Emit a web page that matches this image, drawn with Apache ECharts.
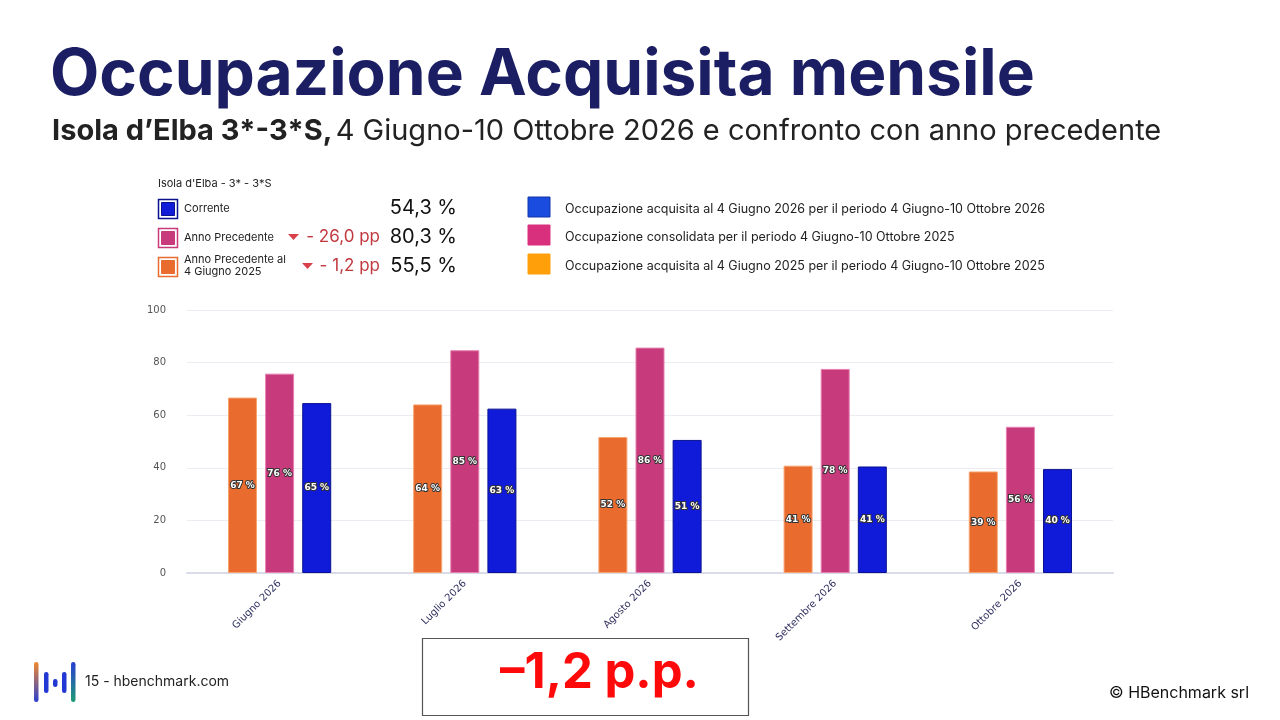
<!DOCTYPE html>
<html>
<head>
<meta charset="utf-8">
<title>Occupazione Acquisita mensile</title>
<script src="https://cdn.jsdelivr.net/npm/echarts@6/dist/echarts.min.js"></script>
<style>
  html, body { margin: 0; padding: 0; background: #fff; }
  #main { width: 1280px; height: 720px; }
</style>
</head>
<body>
<div id="main"></div>
<script>
// mesi e valori
const months = ['Giugno 2026', 'Luglio 2026', 'Agosto 2026', 'Settembre 2026', 'Ottobre 2026'];
const prevAtDate = [66.7, 64.1, 51.7, 40.8, 38.6];   // anno precedente al 4 giugno 2025
const prevFinal = [75.8, 84.7, 85.7, 77.6, 55.6];    // anno precedente consolidato
const current = [64.6, 62.5, 50.6, 40.5, 39.5];      // corrente
const yTicks = [0, 20, 40, 60, 80, 100];

// riepilogo in alto a sinistra
const summaryNames = ['Corrente', 'Anno Precedente', 'Anno Precedente al\n4 Giugno 2025'];
const summaryValues = ['54,3 %', '80,3 %', '55,5 %'];
const summaryDiffs = ['', '- 26,0 pp', '- 1,2 pp'];
const legendTexts = [
  'Occupazione acquisita al 4 Giugno 2026 per il periodo 4 Giugno-10 Ottobre 2026',
  'Occupazione consolidata per il periodo 4 Giugno-10 Ottobre 2025',
  'Occupazione acquisita al 4 Giugno 2025 per il periodo 4 Giugno-10 Ottobre 2025'
];

const barColors = ['#e96c2e', '#c73a7c', '#0f1bd8'];
const barBorders = ['#f7a36e', '#e77fb0', '#0a1290'];
const summaryColors = ['#0f1bd8', '#c73a7c', '#e96c2e'];
const summaryBorders = ['#0a1290', '#c73a7c', '#e96c2e'];
const legendColors = ['#1a4ce0', '#d8307c', '#ffa00a'];

const myChart = echarts.init(document.getElementById('main'));

function barSeries(name, data, i) {
  return {
    name: name,
    type: 'bar',
    data: data,
    barWidth: 29,
    barGap: '28%',
    itemStyle: { color: barColors[i], borderColor: barBorders[i], borderWidth: 1 },
    label: {
      show: true,
      position: 'inside',
      formatter: p => Math.round(p.value) + ' %',
      color: '#fff',
      fontFamily: 'DejaVu Sans',
      fontWeight: 'bold',
      fontSize: 9,
      textBorderColor: '#333',
      textBorderWidth: 2
    }
  };
}

const graphics = [];

// titolo
graphics.push({
  type: 'text', left: 50, top: 44,
  style: { text: 'Occupazione Acquisita mensile', fill: '#1b1e63', font: 'bold 64px Inter' }
});
graphics.push({
  type: 'text', left: 52, top: 117,
  style: {
    text: '{b|Isola d\u2019Elba 3*-3*S,} {r|4 Giugno-10 Ottobre 2026 e confronto con anno precedente}',
    rich: {
      b: { font: 'bold 29px Inter', fill: '#222' },
      r: { font: '29px Inter', fill: '#222' }
    }
  }
});

// riepilogo
graphics.push({
  type: 'text', left: 158, top: 178,
  style: { text: "Isola d'Elba - 3* - 3*S", font: '11px Inter', fill: '#222' }
});
const rowY = [209, 238, 267];
summaryNames.forEach((n, i) => {
  graphics.push({
    type: 'rect', shape: { x: 158.5, y: rowY[i] - 9.5, width: 19, height: 19 },
    style: { fill: '#fff', stroke: summaryBorders[i], lineWidth: 1.5 }
  });
  graphics.push({
    type: 'rect', shape: { x: 161.5, y: rowY[i] - 6.5, width: 13, height: 13 },
    style: { fill: summaryColors[i], stroke: summaryBorders[i], lineWidth: 1 }
  });
  graphics.push({
    type: 'text', left: 184, top: rowY[i] - (i === 2 ? 13 : 6),
    style: { text: n, font: '11px Inter', fill: '#222', lineHeight: 12 }
  });
  graphics.push({
    type: 'text', right: 1280 - 457, top: rowY[i] - 11,
    style: { text: summaryValues[i], font: '20px Inter', fill: '#111' }
  });
  if (summaryDiffs[i]) {
    graphics.push({
      type: 'text', right: 1280 - 380, top: rowY[i] - 10,
      style: { text: summaryDiffs[i], font: '17px Inter', fill: '#c0393f' }
    });
    graphics.push({
      type: 'polygon', shape: { points: [[0, 0], [11, 0], [5.5, 6]] },
      x: i === 1 ? 288 : 302, y: rowY[i] - 4,
      style: { fill: '#d8404a' }
    });
  }
});

// legenda a destra
const legY = [207, 235, 264];
legendTexts.forEach((t, i) => {
  graphics.push({
    type: 'rect', shape: { x: 528, y: legY[i] - 10, width: 22, height: 20 },
    style: { fill: legendColors[i], stroke: i === 0 ? '#1234a8' : legendColors[i], lineWidth: 1 }
  });
  graphics.push({
    type: 'text', left: 565, top: legY[i] - 4,
    style: { text: t, font: '12.5px Inter', fill: '#222' }
  });
});

// riquadro differenza
graphics.push({
  type: 'rect', shape: { x: 422.5, y: 638.5, width: 326, height: 77 },
  style: { fill: '#fff', stroke: '#555', lineWidth: 1.2 }
});
graphics.push({
  type: 'text', left: 500, top: 649,
  style: { text: '\u20131,2 p.p.', font: 'bold 49px Inter', fill: '#ff0a0a' }
});

// piè di pagina
const logoBars = [
  { x: 34, y: 662, h: 40, c: ['#f08a2c', '#2b3fd0'] },
  { x: 44, y: 672, h: 21, c: ['#2238d4', '#2238d4'] },
  { x: 53, y: 679, h: 8, c: ['#2238d4', '#2238d4'] },
  { x: 62, y: 672, h: 21, c: ['#2238d4', '#2238d4'] },
  { x: 71, y: 662, h: 40, c: ['#2a3ed2', '#1f9a74'] }
];
logoBars.forEach(b => {
  graphics.push({
    type: 'rect', shape: { x: b.x, y: b.y, width: 4.5, height: b.h, r: 2.2 },
    style: {
      fill: new echarts.graphic.LinearGradient(0, 0, 0, 1, [
        { offset: 0, color: b.c[0] }, { offset: 1, color: b.c[1] }
      ])
    }
  });
});
graphics.push({
  type: 'text', left: 85, top: 675,
  style: { text: '15 - hbenchmark.com', font: '14px Inter', fill: '#222' }
});
graphics.push({
  type: 'text', left: 1109, top: 685,
  style: { text: '\u00a9 HBenchmark srl', font: '16px Inter', fill: '#111' }
});

const option = {
  animation: false,
  backgroundColor: '#fff',
  grid: { left: 187, right: 167, top: 310, bottom: 147 },
  xAxis: {
    type: 'category',
    data: months,
    axisLine: { lineStyle: { color: '#d9dce8', width: 2 } },
    axisTick: { alignWithLabel: true, length: 5, lineStyle: { color: '#e2c8d8' } },
    axisLabel: {
      rotate: 45, color: '#2e2f5e', fontSize: 10, fontFamily: 'DejaVu Sans',
      interval: 0, margin: 9
    }
  },
  yAxis: {
    type: 'value',
    min: yTicks[0],
    max: yTicks[yTicks.length - 1],
    interval: 20,
    axisLabel: { color: '#555', fontSize: 10, fontFamily: 'DejaVu Sans', margin: 21 },
    splitLine: { lineStyle: { color: '#ececf2' } }
  },
  series: [
    barSeries('Anno Precedente al 4 Giugno 2025', prevAtDate, 0),
    barSeries('Anno Precedente', prevFinal, 1),
    barSeries('Corrente', current, 2)
  ],
  graphic: graphics
};
myChart.setOption(option);
</script>
</body>
</html>
